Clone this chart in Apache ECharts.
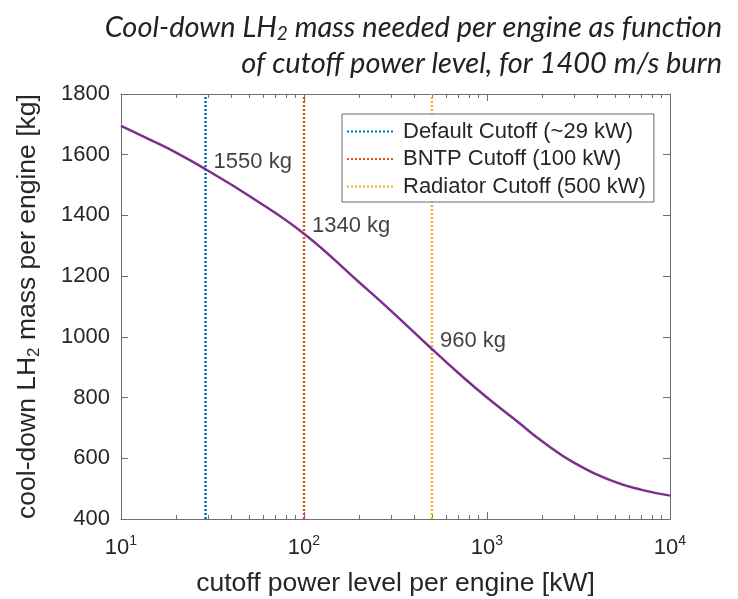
<!DOCTYPE html>
<html>
<head>
<meta charset="utf-8">
<script src="https://cdn.jsdelivr.net/npm/echarts@6/dist/echarts.min.js"></script>
<style>
html, body { margin: 0; padding: 0; background: #fff; }
#box { width: 738px; height: 599px; }
</style>
</head>
<body>
<div id="box"></div>
<script>
// 曲线数据
var power = [10, 14, 20, 29, 50, 100, 200, 300, 500, 700, 1000, 1500, 2000, 3000, 5000, 7000, 10000];
var mass = [1695, 1653, 1607, 1552, 1465, 1340, 1180, 1085, 960, 880, 800, 716, 656, 585, 522, 496, 477];

// 三条截止线
var cutoffNames = ['Default Cutoff (~29 kW)', 'BNTP Cutoff (100 kW)', 'Radiator Cutoff (500 kW)'];
var cutoffPower = [29, 100, 500];
var cutoffMass = [1550, 1340, 960];
var cutoffColors = ['#0072BD', '#D95319', '#EDB120'];

// 刻度
var yMin = 400, yMax = 1800, yStep = 200;
var xMin = 10, xMax = 10000;
var xMinorTicks = [20, 30, 40, 50, 60, 70, 80, 90,
    200, 300, 400, 500, 600, 700, 800, 900,
    2000, 3000, 4000, 5000, 6000, 7000, 8000, 9000];

var axisColor = '#6e6e6e';
var textColor = '#262626';
var font = 'Liberation Sans';

var myChart = echarts.init(document.getElementById('box'));

var curve = power.map(function (p, i) { return [p, mass[i]]; });

var series = [{
    name: 'curve',
    type: 'line',
    data: curve,
    smooth: 0.45,
    symbol: 'none',
    lineStyle: { color: '#7E2F8E', width: 2.5 },
    itemStyle: { color: '#7E2F8E' },
    z: 5
}];

// 虚线
cutoffNames.forEach(function (n, i) {
    series.push({
        name: n,
        type: 'line',
        data: [[cutoffPower[i], yMin], [cutoffPower[i], yMax]],
        symbol: 'none',
        lineStyle: { color: cutoffColors[i], width: 2.5, type: [2, 2] },
        itemStyle: { color: cutoffColors[i] },
        z: 3
    });
});

// 标注文字
series.push({
    name: 'labels',
    type: 'scatter',
    symbolSize: 0,
    data: cutoffPower.map(function (p, i) { return [p, cutoffMass[i]]; }),
    label: {
        show: true,
        position: 'right',
        distance: 5,
        offset: [3, -8],
        formatter: function (p) { return p.value[1] + ' kg'; },
        fontFamily: font,
        fontSize: 22,
        color: '#111'
    },
    silent: true,
    z: 6
});

var option = {
    animation: false,
    graphic: [{
        type: 'text',
        x: 722,
        y: 10,
        style: {
            text: 'Cool-down LH{sub|2} mass needed per engine as function\nof cutoff power level, for 1400 m/s burn',
            align: 'right',
            verticalAlign: 'top',
            fontFamily: 'Lato',
            fontStyle: 'italic',
            fontSize: 29,
            lineHeight: 36,
            fill: '#222',
            rich: {
                sub: { fontFamily: 'Lato', fontStyle: 'italic', fontSize: 19, padding: [12, 0, 0, 0], fill: '#222' }
            }
        }
    }],
    legend: {
        data: cutoffNames,
        orient: 'vertical',
        left: 342,
        top: 114,
        itemWidth: 48,
        itemHeight: 10,
        itemGap: 4.5,
        padding: [6, 8, 4, 4],
        borderColor: '#6a6a6a',
        borderWidth: 1,
        backgroundColor: '#fff',
        itemStyle: { opacity: 0 },
        textStyle: { fontFamily: font, fontSize: 22, lineHeight: 23, color: textColor, padding: [0, 0, 0, 3] },
        z: 10
    },
    grid: { left: 121, right: 68, top: 94, bottom: 80, outerBoundsMode: 'none', containLabel: false },
    xAxis: [{
        type: 'log',
        logBase: 10,
        min: xMin,
        max: xMax,
        position: 'bottom',
        name: 'cutoff power level per engine [kW]',
        nameLocation: 'middle',
        nameGap: 51,
        nameTextStyle: { fontFamily: font, fontSize: 26.5, color: textColor },
        axisLine: { show: true, lineStyle: { color: axisColor, width: 1 } },
        axisTick: { show: true, inside: true, length: 7, lineStyle: { color: axisColor } },
        axisLabel: {
            margin: 15,
            formatter: function (v) {
                return '{b|10}{s|' + Math.round(Math.log10(v)) + '}';
            },
            rich: {
                b: { fontFamily: font, fontSize: 22, color: textColor },
                s: { fontFamily: font, fontSize: 14, color: textColor, padding: [0, 0, 14, 0] }
            }
        },
        splitLine: { show: false }
    }, {
        type: 'log',
        logBase: 10,
        min: xMin,
        max: xMax,
        position: 'top',
        axisLine: { show: true, lineStyle: { color: axisColor, width: 1 } },
        axisTick: { show: true, inside: true, length: 7, lineStyle: { color: axisColor } },
        axisLabel: { show: false },
        splitLine: { show: false }
    }, {
        type: 'log',
        logBase: 10,
        min: xMin,
        max: xMax,
        position: 'bottom',
        axisLine: { show: false },
        axisTick: { show: true, inside: true, length: 4, customValues: xMinorTicks, lineStyle: { color: axisColor } },
        axisLabel: { show: false },
        splitLine: { show: false }
    }, {
        type: 'log',
        logBase: 10,
        min: xMin,
        max: xMax,
        position: 'top',
        axisLine: { show: false },
        axisTick: { show: true, inside: true, length: 4, customValues: xMinorTicks, lineStyle: { color: axisColor } },
        axisLabel: { show: false },
        splitLine: { show: false }
    }],
    yAxis: [{
        type: 'value',
        min: yMin,
        max: yMax,
        interval: yStep,
        position: 'left',
        name: 'cool-down LH{sub|2} mass per engine [kg]',
        nameLocation: 'middle',
        nameGap: 78,
        nameTextStyle: {
            fontFamily: font, fontSize: 26.5, color: textColor,
            rich: { sub: { fontFamily: font, fontSize: 17, color: textColor, padding: [14, 0, 0, 0] } }
        },
        axisLine: { show: true, lineStyle: { color: axisColor, width: 1 } },
        axisTick: { show: true, inside: true, length: 7, lineStyle: { color: axisColor } },
        axisLabel: {
            fontFamily: font, fontSize: 22, color: textColor, margin: 11,
            formatter: function (v) { return String(v); }
        },
        splitLine: { show: false }
    }, {
        type: 'value',
        min: yMin,
        max: yMax,
        interval: yStep,
        position: 'right',
        axisLine: { show: true, lineStyle: { color: axisColor, width: 1 } },
        axisTick: { show: true, inside: true, length: 7, lineStyle: { color: axisColor } },
        axisLabel: { show: false },
        splitLine: { show: false }
    }],
    series: series
};

myChart.setOption(option);
</script>
</body>
</html>
